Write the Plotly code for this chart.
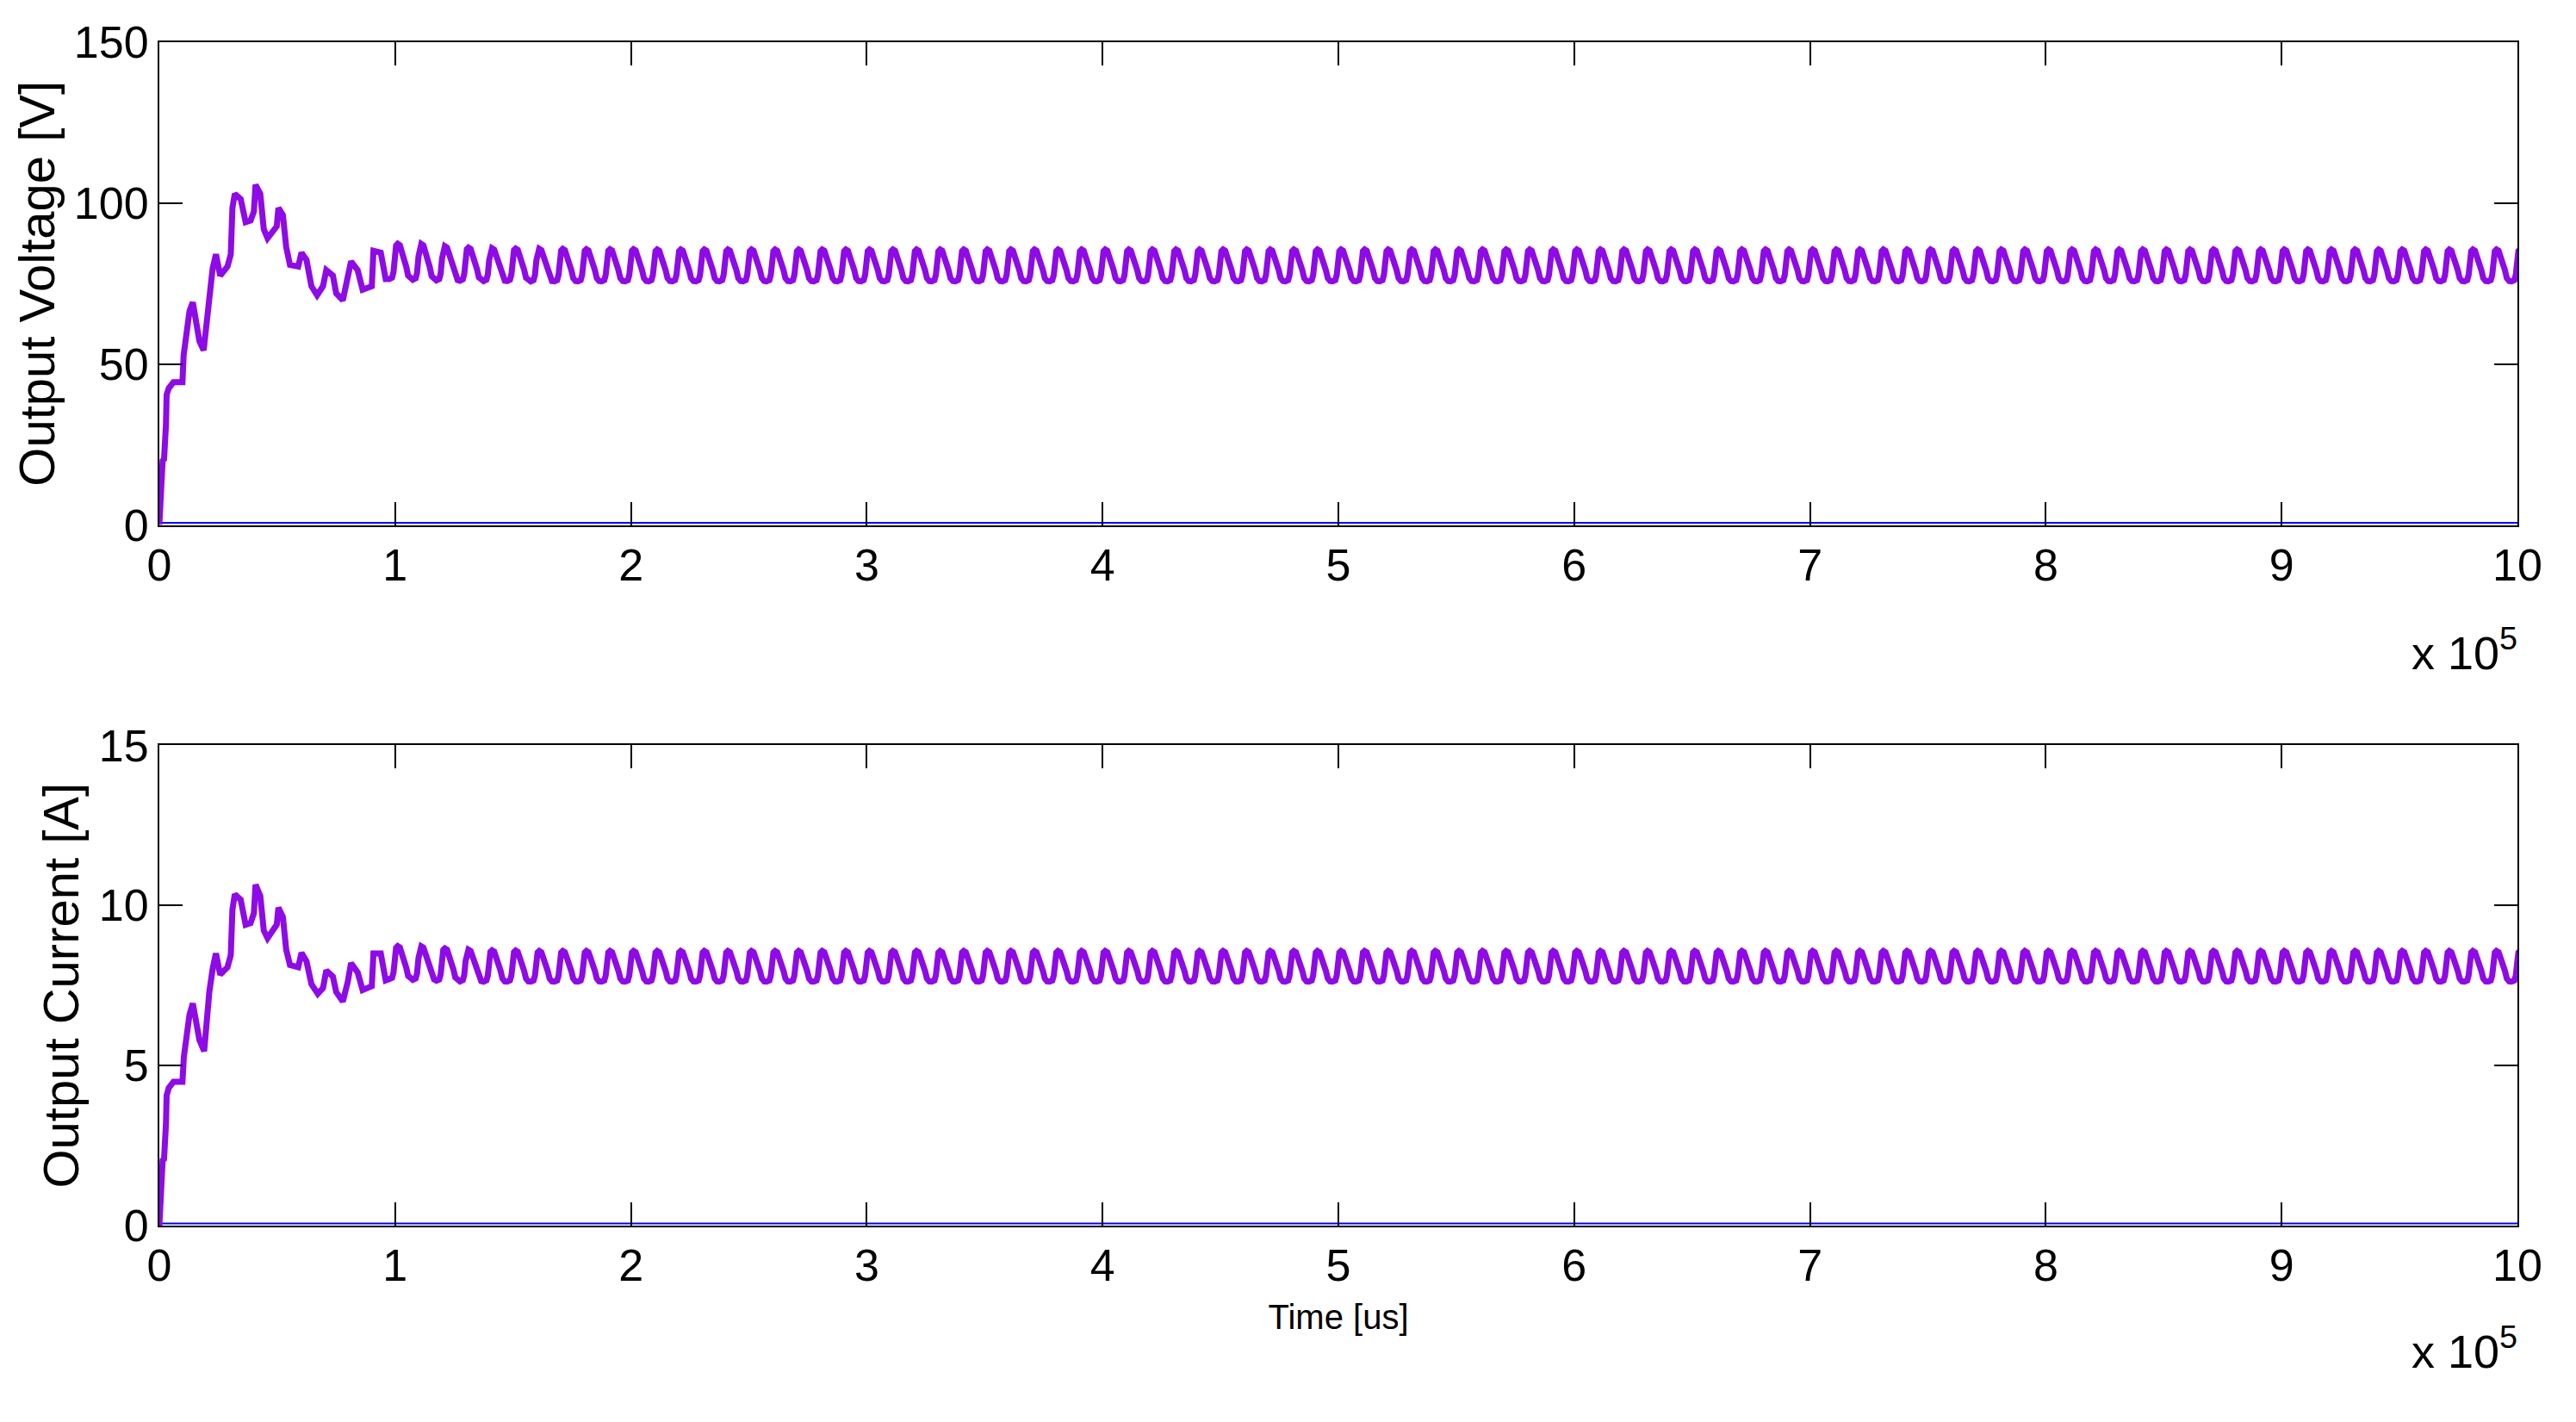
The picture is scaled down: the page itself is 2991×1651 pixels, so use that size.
import plotly.graph_objects as go

# ---------------- data (time in units of 1e5 us) ----------------
V_TRANS_T = [0.000, 0.006, 0.012, 0.014, 0.020, 0.022, 0.028, 0.031, 0.040, 0.060,
             0.098, 0.103, 0.114, 0.128, 0.142, 0.159, 0.170, 0.188, 0.202, 0.212,
             0.226, 0.240, 0.258, 0.289, 0.303, 0.310, 0.320, 0.345, 0.366, 0.387,
             0.401, 0.408, 0.428, 0.443, 0.459, 0.498, 0.505, 0.524, 0.538, 0.554,
             0.589, 0.603, 0.624, 0.645, 0.669, 0.694, 0.708, 0.736, 0.750, 0.778,
             0.799, 0.813, 0.841, 0.862, 0.901, 0.908, 0.939, 0.960]
V_TRANS = [0.0, 10.1, 10.5, 20.0, 20.5, 30.6, 31.0, 40.5, 42.5, 44.4,
           44.4, 52.7, 58.7, 66.5, 69.2, 61.5, 57.1, 54.3, 65.4, 73.1,
           79.7, 84.1, 77.5, 80.3, 84.1, 98.5, 102.9, 101.3, 94.1, 94.6,
           97.4, 105.7, 102.9, 91.9, 89.1, 92.8, 98.5, 96.3, 86.4, 80.8,
           80.3, 84.6, 82.4, 74.2, 71.4, 74.2, 79.2, 77.5, 72.0, 69.8,
           77.0, 81.9, 79.2, 73.1, 74.2, 85.2, 84.6, 76.4]

I_TRANS_T = [0.000, 0.006, 0.012, 0.014, 0.020, 0.022, 0.028, 0.031, 0.040, 0.060,
             0.098, 0.104, 0.114, 0.128, 0.142, 0.159, 0.170, 0.190, 0.202, 0.212,
             0.226, 0.240, 0.258, 0.289, 0.303, 0.310, 0.320, 0.345, 0.366, 0.387,
             0.401, 0.408, 0.428, 0.443, 0.459, 0.498, 0.505, 0.524, 0.538, 0.554,
             0.589, 0.603, 0.624, 0.645, 0.672, 0.694, 0.708, 0.736, 0.750, 0.778,
             0.799, 0.813, 0.841, 0.862, 0.901, 0.908, 0.939, 0.960]
I_TRANS = [0.0, 1.03, 1.08, 2.04, 2.08, 3.12, 3.16, 4.07, 4.30, 4.49,
           4.49, 5.27, 5.87, 6.59, 6.94, 6.17, 5.80, 5.45, 6.59, 7.30,
           8.02, 8.50, 7.84, 8.07, 8.45, 9.87, 10.35, 10.18, 9.40, 9.45,
           9.76, 10.65, 10.30, 9.22, 8.98, 9.40, 9.93, 9.64, 8.62, 8.14,
           8.07, 8.52, 8.26, 7.54, 7.24, 7.42, 7.97, 7.78, 7.30, 7.00,
           7.61, 8.20, 7.91, 7.36, 7.48, 8.50, 8.50, 7.66]

# steady-state ripple: one cycle shape (phase of a 0.1 period, level 0=trough 1=peak)
RIPPLE_START = 0.975
RIPPLE_PERIOD = 0.1
CYCLE_PHASE = [0.00, 0.12, 0.18, 0.24, 0.29, 0.36, 0.45, 0.52, 0.58, 0.64, 0.72, 0.80, 0.90]
CYCLE_LEVEL = [0.00, 0.04, 0.20, 0.65, 0.95, 1.00, 0.96, 0.80, 0.68, 0.62, 0.35, 0.10, 0.01]

# per-cycle peak / trough values (91 cycles)
V_PEAKS = [87.4, 87.3, 86.6, 86.2, 86.0, 85.9, 85.8, 85.8, 85.7, 85.7,
           85.7, 85.6, 85.6, 85.6, 85.6, 85.6, 85.6, 85.6, 85.6, 85.6,
           85.6, 85.6, 85.6, 85.6, 85.6, 85.6, 85.6, 85.6, 85.6, 85.6,
           85.6, 85.6, 85.6, 85.6, 85.6, 85.6, 85.6, 85.6, 85.6, 85.6,
           85.6, 85.6, 85.6, 85.6, 85.6, 85.6, 85.6, 85.6, 85.6, 85.6,
           85.6, 85.6, 85.6, 85.6, 85.6, 85.6, 85.6, 85.6, 85.6, 85.6,
           85.6, 85.6, 85.6, 85.6, 85.6, 85.6, 85.6, 85.6, 85.6, 85.6,
           85.6, 85.6, 85.6, 85.6, 85.6, 85.6, 85.6, 85.6, 85.6, 85.6,
           85.6, 85.6, 85.6, 85.6, 85.6, 85.6, 85.6, 85.6, 85.6, 85.6,
           85.6]
V_TROUGHS = [76.4, 76.2, 76.0, 75.9, 75.8, 75.8, 75.7, 75.7, 75.7, 75.7,
             75.7, 75.7, 75.7, 75.7, 75.7, 75.7, 75.7, 75.7, 75.7, 75.7,
             75.7, 75.7, 75.7, 75.7, 75.7, 75.7, 75.7, 75.7, 75.7, 75.7,
             75.7, 75.7, 75.7, 75.7, 75.7, 75.7, 75.7, 75.7, 75.7, 75.7,
             75.7, 75.7, 75.7, 75.7, 75.7, 75.7, 75.7, 75.7, 75.7, 75.7,
             75.7, 75.7, 75.7, 75.7, 75.7, 75.7, 75.7, 75.7, 75.7, 75.7,
             75.7, 75.7, 75.7, 75.7, 75.7, 75.7, 75.7, 75.7, 75.7, 75.7,
             75.7, 75.7, 75.7, 75.7, 75.7, 75.7, 75.7, 75.7, 75.7, 75.7,
             75.7, 75.7, 75.7, 75.7, 75.7, 75.7, 75.7, 75.7, 75.7, 75.7,
             75.7]
I_PEAKS = [8.73, 8.72, 8.66, 8.62, 8.60, 8.59, 8.58, 8.58, 8.58, 8.58,
           8.58, 8.58, 8.58, 8.58, 8.58, 8.58, 8.58, 8.58, 8.58, 8.58,
           8.58, 8.58, 8.58, 8.58, 8.58, 8.58, 8.58, 8.58, 8.58, 8.58,
           8.58, 8.58, 8.58, 8.58, 8.58, 8.58, 8.58, 8.58, 8.58, 8.58,
           8.58, 8.58, 8.58, 8.58, 8.58, 8.58, 8.58, 8.58, 8.58, 8.58,
           8.58, 8.58, 8.58, 8.58, 8.58, 8.58, 8.58, 8.58, 8.58, 8.58,
           8.58, 8.58, 8.58, 8.58, 8.58, 8.58, 8.58, 8.58, 8.58, 8.58,
           8.58, 8.58, 8.58, 8.58, 8.58, 8.58, 8.58, 8.58, 8.58, 8.58,
           8.58, 8.58, 8.58, 8.58, 8.58, 8.58, 8.58, 8.58, 8.58, 8.58,
           8.58]
I_TROUGHS = [7.70, 7.68, 7.65, 7.63, 7.62, 7.62, 7.62, 7.62, 7.62, 7.62,
             7.62, 7.62, 7.62, 7.62, 7.62, 7.62, 7.62, 7.62, 7.62, 7.62,
             7.62, 7.62, 7.62, 7.62, 7.62, 7.62, 7.62, 7.62, 7.62, 7.62,
             7.62, 7.62, 7.62, 7.62, 7.62, 7.62, 7.62, 7.62, 7.62, 7.62,
             7.62, 7.62, 7.62, 7.62, 7.62, 7.62, 7.62, 7.62, 7.62, 7.62,
             7.62, 7.62, 7.62, 7.62, 7.62, 7.62, 7.62, 7.62, 7.62, 7.62,
             7.62, 7.62, 7.62, 7.62, 7.62, 7.62, 7.62, 7.62, 7.62, 7.62,
             7.62, 7.62, 7.62, 7.62, 7.62, 7.62, 7.62, 7.62, 7.62, 7.62,
             7.62, 7.62, 7.62, 7.62, 7.62, 7.62, 7.62, 7.62, 7.62, 7.62,
             7.62]

X_TICKS = [0, 1, 2, 3, 4, 5, 6, 7, 8, 9, 10]
V_TICKS = [0, 50, 100, 150]
I_TICKS = [0, 5, 10, 15]
V_BASE_LINE = [0.7, 0.7]     # thin blue trace lying just above zero
I_BASE_LINE = [0.07, 0.07]
SCALE = 1e5  # time axis unit: x 10^5 us


def build(trans_t, trans_v, peaks, troughs):
    t = [x * SCALE for x in trans_t]
    v = list(trans_v)
    for k, (pk, tr) in enumerate(zip(peaks, troughs)):
        for ph, lv in zip(CYCLE_PHASE, CYCLE_LEVEL):
            t.append((RIPPLE_START + (k + ph) * RIPPLE_PERIOD) * SCALE)
            v.append(tr + lv * (pk - tr))
    return t, v


vt, vv = build(V_TRANS_T, V_TRANS, V_PEAKS, V_TROUGHS)
it, iv = build(I_TRANS_T, I_TRANS, I_PEAKS, I_TROUGHS)

PURPLE = "#8E0AE6"
BLUE = "#0000FF"
FONT = "Liberation Sans Narrow, Arial Narrow, Liberation Sans, Arial, sans-serif"

fig = go.Figure()
fig.add_trace(go.Scatter(x=[0, 10 * SCALE], y=V_BASE_LINE, mode="lines", line=dict(color=BLUE, width=2),
                         xaxis="x", yaxis="y", showlegend=False, hoverinfo="skip"))
fig.add_trace(go.Scatter(x=vt, y=vv, mode="lines", line=dict(color=PURPLE, width=7),
                         xaxis="x", yaxis="y", showlegend=False, hoverinfo="skip"))
fig.add_trace(go.Scatter(x=[0, 10 * SCALE], y=I_BASE_LINE, mode="lines", line=dict(color=BLUE, width=2),
                         xaxis="x2", yaxis="y2", showlegend=False, hoverinfo="skip"))
fig.add_trace(go.Scatter(x=it, y=iv, mode="lines", line=dict(color=PURPLE, width=7),
                         xaxis="x2", yaxis="y2", showlegend=False, hoverinfo="skip"))

axis_common = dict(showgrid=False, zeroline=False, showline=True, linecolor="black", linewidth=2,
                   mirror="allticks", ticks="inside", ticklen=27, tickwidth=1.5, tickcolor="black",
                   tickfont=dict(family=FONT, size=52, color="black"))

xt = dict(tickmode="array", tickvals=[x * SCALE for x in X_TICKS], ticktext=[str(x) for x in X_TICKS],
          range=[0, 10 * SCALE])

# page body adds an 8px offset, margins compensate for it
fig.update_layout(
    width=2991, height=1651,
    margin=dict(l=177, r=76, t=35, b=236),
    paper_bgcolor="white", plot_bgcolor="white",
    xaxis=dict(domain=[0, 1], anchor="y", **xt, **axis_common),
    yaxis=dict(domain=[0.592, 1.0], anchor="x", range=[0, 150], tickmode="array", tickvals=V_TICKS,
               title=dict(text="Output Voltage [V]", font=dict(family=FONT, size=58, color="black"), standoff=4),
               **axis_common),
    xaxis2=dict(domain=[0, 1], anchor="y2", **xt,
                title=dict(text="Time [us]", font=dict(family=FONT, size=40, color="black"), standoff=18),
                **axis_common),
    yaxis2=dict(domain=[0, 0.4058], anchor="x2", range=[0, 15], tickmode="array", tickvals=I_TICKS,
                title=dict(text="Output Current [A]", font=dict(family=FONT, size=58, color="black"), standoff=4),
                **axis_common),
    annotations=[
        dict(text="x 10<sup>5</sup>", xref="paper", yref="paper", x=1.0007, y=0.487,
             xanchor="right", yanchor="middle", showarrow=False,
             font=dict(family=FONT, size=54, color="black")),
        dict(text="x 10<sup>5</sup>", xref="paper", yref="paper", x=1.0007, y=-0.103,
             xanchor="right", yanchor="middle", showarrow=False,
             font=dict(family=FONT, size=54, color="black")),
    ],
)

fig.write_html("out.html", config={"displayModeBar": False})
